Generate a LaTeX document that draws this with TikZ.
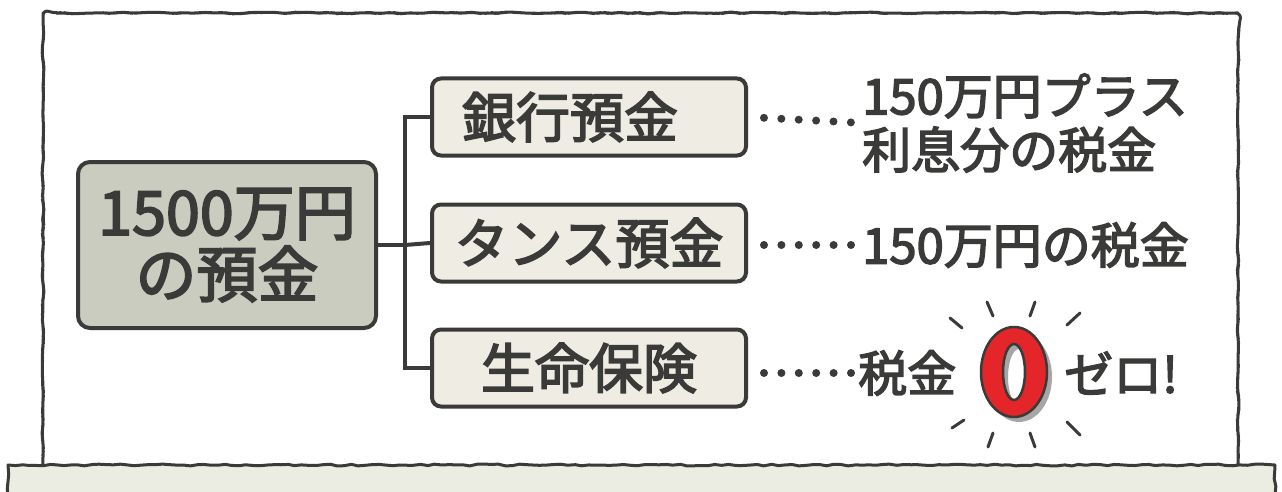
\documentclass[tikz,border=0pt]{standalone}
\usepackage{fontspec}
\setmainfont{Noto Sans CJK JP}[FakeBold=3]
\usetikzlibrary{decorations.pathmorphing,calc}
\definecolor{ink}{HTML}{3A3A38}
\definecolor{mainfill}{HTML}{C9CCBF}
\definecolor{subfill}{HTML}{EFECE4}
\definecolor{bandfill}{HTML}{ECEDE2}
\definecolor{zero}{HTML}{E4262B}
\tikzset{
  frame/.style={draw=ink, line width=3pt, line join=round,
    decorate, decoration={random steps, segment length=7pt, amplitude=0.9pt}},
  mainbox/.style={draw=ink, fill=mainfill, line width=4pt, rounded corners=12pt,
    minimum width=298pt, minimum height=166pt, align=center, text=ink,
    font=\fontsize{61}{62}\selectfont},
  subbox/.style={draw=ink, fill=subfill, line width=4pt, rounded corners=9pt,
    minimum width=314pt, minimum height=77pt, text=ink, inner sep=0pt,
    font=\fontsize{54}{60}\selectfont},
  result/.style={anchor=west, text=ink, inner sep=0pt, align=left,
    font=\fontsize{49}{54}\selectfont},
  branch/.style={draw=ink, line width=4pt},
  dots/.style={draw=ink, line width=8pt, line cap=round, dash pattern=on 0pt off 17.4pt},
  ray/.style={draw=ink, line width=3pt, line cap=round}
}
\begin{document}
\begin{tikzpicture}[x=1pt, y=-1pt]
\pgfmathsetseed{7}
\useasboundingbox (0,0) rectangle (1282,492);
% frames
\draw[frame] (43,464) -- (43,22) [rounded corners=6pt] -- (43,13) -- (1238,13) -- (1238,464);
\filldraw[frame, fill=bandfill] (8,495) -- (8,465) -- (1275,465) -- (1275,495);
% nodes
\node[mainbox] (main) at (227,245) {1500万円\\の預金};
\node[subbox] (b1) at (589,117) {\hspace*{-19pt}銀行預金\hspace*{19pt}};
\node[subbox] (b2) at (589,243) {タンス預金};
\node[subbox] (b3) at (589,368) {生命保険};
\coordinate (j) at (405,245);
\coordinate (jt) at (405,117);
\coordinate (jb) at (405,368);
\draw[branch] (main.east) -- (j);
\draw[branch, line join=miter] (b1.west) -- (jt) -- (jb) -- (b3.west);
\draw[branch] (j) -- (b2.west);
\node[result] (r1) at (862,123) {150万円プラス\\利息分の税金};
\node[result] (r2) at (862,245) {150万円の税金};
\node[result] (r3) at (858,373) {税金};
\node[result] (r3b) at (1064,373) {ゼロ!};
\draw[dots, shorten <=16pt] (b1.east) -- (r1.west);
\draw[dots, shorten <=16pt] (b2.east |- r2.west) -- (r2.west);
\draw[dots, shorten <=16pt] (b3.east |- r3.west) -- (r3.west);
% red zero
\fill[gray!70, even odd rule] (1019,377) ellipse [x radius=33, y radius=45]
  (1019,377) ellipse [x radius=11, y radius=28];
\filldraw[fill=zero, draw=ink, line width=2.5pt, even odd rule]
  (1014,372) ellipse [x radius=33, y radius=45]
  (1014,372) ellipse [x radius=11, y radius=28];
% rays
\draw[ray] (950,318) -- (962,328);
\draw[ray] (987,302) -- (993,316);
\draw[ray] (1035,302) -- (1030,316);
\draw[ray] (1080,313) -- (1067,325);
\draw[ray] (952,428) -- (964,420);
\draw[ray] (988,447) -- (993,433);
\draw[ray] (1030,433) -- (1035,447);
\draw[ray] (1067,422) -- (1080,435);
\end{tikzpicture}
\end{document}
